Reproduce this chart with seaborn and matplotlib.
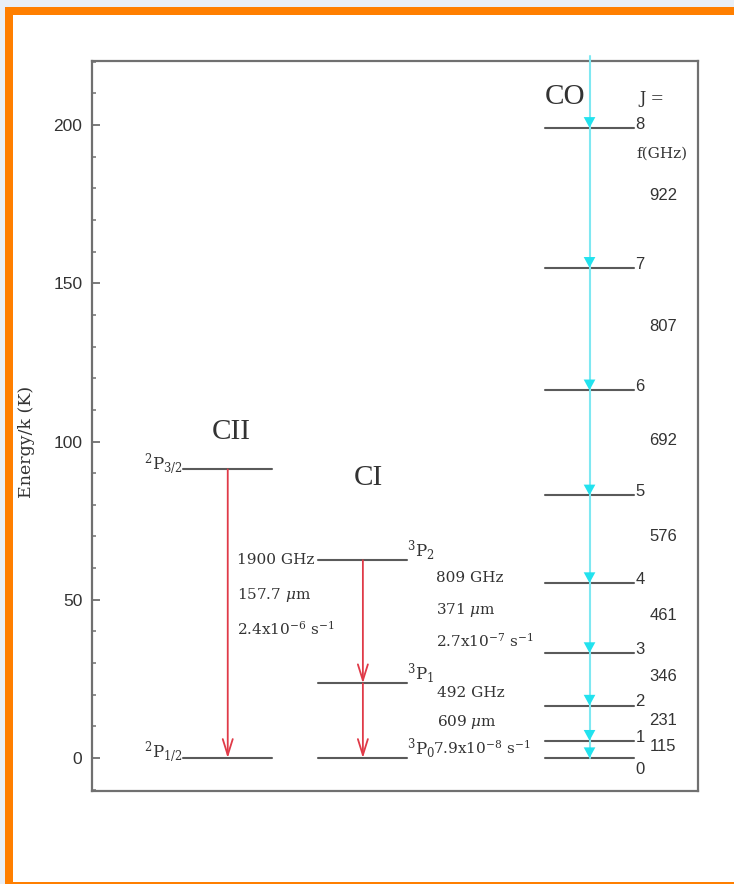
import numpy as np
import pandas as pd
import matplotlib
matplotlib.use("Agg")
import matplotlib.pyplot as plt
from matplotlib.patches import Rectangle
import seaborn as sns

# ---------------- data ----------------
cii_levels = [0.0, 91.2]                 # 2P1/2, 2P3/2  (K)
cii_labels = [r"$^{2}$P$_{1/2}$", r"$^{2}$P$_{3/2}$"]
ci_levels = [0.0, 23.6, 62.5]            # 3P0, 3P1, 3P2 (K)
ci_labels = [r"$^{3}$P$_{0}$", r"$^{3}$P$_{1}$", r"$^{3}$P$_{2}$"]
co_J = [0, 1, 2, 3, 4, 5, 6, 7, 8]
co_levels = [0.0, 5.5, 16.6, 33.2, 55.3, 83.0, 116.2, 154.9, 199.1]
co_freq = ["115", "231", "346", "461", "576", "692", "807", "922"]
cii_trans = ["1900 GHz", r"157.7 $\mu$m", r"2.4x10$^{-6}$ s$^{-1}$"]
ci_trans_hi = ["809 GHz", r"371 $\mu$m", r"2.7x10$^{-7}$ s$^{-1}$"]
ci_trans_lo = ["492 GHz", r"609 $\mu$m", r"7.9x10$^{-8}$ s$^{-1}$"]
yticks = [0, 50, 100, 150, 200]

# ---------------- style ----------------
sns.set_theme(style="ticks")
plt.rcParams["font.family"] = ["DejaVu Serif"]
plt.rcParams["mathtext.fontset"] = "dejavuserif"

SERIF = ["DejaVu Serif"]
SANS = ["Liberation Sans", "DejaVu Sans"]
LEVEL_C = "#5a5a5a"
RED = "#e03a48"
CYAN = "#22e2ee"
CYAN_LINE = "#7fe8f2"
TXT = "#333333"

W, H = 734, 884
fig = plt.figure(figsize=(W / 100, H / 100), dpi=100, facecolor="white")

# page frame (background strip, orange border)
fig.patches.append(Rectangle((0, 0), 1, 1, transform=fig.transFigure,
                             facecolor="#e9eff6", edgecolor="none", zorder=-10))
fig.patches.append(Rectangle((5 / W, 0), 1, 1 - 7 / H, transform=fig.transFigure,
                             facecolor="#ff7f00", edgecolor="none", zorder=-9))
fig.patches.append(Rectangle((13 / W, 2 / H), 1, 1 - 17 / H, transform=fig.transFigure,
                             facecolor="white", edgecolor="none", zorder=-8))

ax = fig.add_axes([92 / W, 93 / H, 606 / W, 730 / H])
ax.set_facecolor("white")
ax.set_xlim(0, 10)
ax.set_ylim(-10.4, 220.2)
ytop = ax.get_ylim()[1]

# column geometry (layout)
cols = {"CII": 2.24, "CI": 4.47, "CO": 8.21}
half = 0.735

# ---- level lines via seaborn ----
rows = []
for name, levels in (("CII", cii_levels), ("CI", ci_levels), ("CO", co_levels)):
    c = cols[name]
    for i, e in enumerate(levels):
        uid = f"{name}{i}"
        rows.append({"x": c - half, "E": e, "uid": uid})
        rows.append({"x": c + half, "E": e, "uid": uid})
df = pd.DataFrame(rows)
sns.lineplot(data=df, x="x", y="E", units="uid", estimator=None, sort=False,
             color=LEVEL_C, lw=1.5, ax=ax, zorder=2)

# ---- CO cascade (cyan line with filled heads) ----
x_co = cols["CO"]
ax.plot([x_co, x_co], [co_levels[0], ytop + 1.5], color=CYAN_LINE, lw=1.5,
        clip_on=False, zorder=3)
tops = [ytop] + co_levels[::-1][:-1]
bottoms = co_levels[::-1]
for top, bot in zip(tops, bottoms):
    ax.annotate("", xy=(x_co, bot), xytext=(x_co, top),
                arrowprops=dict(arrowstyle="-|>,head_length=0.55,head_width=0.3",
                                color=CYAN, lw=0, shrinkA=0, shrinkB=0,
                                mutation_scale=14), zorder=4)

# ---- red transitions ----
red_style = dict(arrowstyle="->,head_length=1.15,head_width=0.36", color=RED,
                 lw=1.3, shrinkA=0, shrinkB=0, mutation_scale=10)
ax.annotate("", xy=(cols["CII"], cii_levels[0]), xytext=(cols["CII"], cii_levels[1]),
            arrowprops=red_style, zorder=3)
ax.annotate("", xy=(cols["CI"], ci_levels[1]), xytext=(cols["CI"], ci_levels[2]),
            arrowprops=red_style, zorder=3)
ax.annotate("", xy=(cols["CI"], ci_levels[0]), xytext=(cols["CI"], ci_levels[1]),
            arrowprops=red_style, zorder=3)

# ---- species titles ----
ax.text(cols["CII"] + 0.05, 103, "CII", family=["Liberation Serif"], fontsize=21,
        ha="center", va="center", color=TXT)
ax.text(cols["CI"] + 0.09, 88.5, "CI", family=["Liberation Serif"], fontsize=21,
        ha="center", va="center", color=TXT)
ax.text(x_co - 0.4, 208.8, "CO", family=["Liberation Serif"], fontsize=21,
        ha="center", va="center", color=TXT)
ax.text(9.03, 208.3, "J =", family=SERIF, fontsize=11.5, ha="left", va="center",
        color=TXT)
ax.text(9.41, 191, "f(GHz)", family=SERIF, fontsize=11, ha="center", va="center",
        color=TXT)

# ---- level labels ----
for e, lab in zip(cii_levels, cii_labels):
    ax.text(cols["CII"] - half, e, lab, family=SERIF, fontsize=12, ha="right",
            va="baseline", color=TXT)
for e, lab in zip(ci_levels, ci_labels):
    ax.text(cols["CI"] + half, e + 1.2, lab, family=SERIF, fontsize=12, ha="left",
            va="baseline", color=TXT)
for j, e in zip(co_J, co_levels):
    if j == 0:
        ax.text(x_co + half + 0.02, e - 1.3, str(j), family=SANS, fontsize=12,
                ha="left", va="top", color=TXT)
    else:
        ax.text(x_co + half + 0.02, e - 0.3, str(j), family=SANS, fontsize=12,
                ha="left", va="baseline", color=TXT)
for k, f in enumerate(co_freq):
    ymid = 0.5 * (co_levels[k] + co_levels[k + 1])
    ax.text(9.43, ymid + 0.8, f, family=SANS, fontsize=12, ha="center",
            va="center", color=TXT)

# ---- transition annotations ----
for t, y in zip(cii_trans, [62.6, 51.5, 41.0]):
    ax.text(2.39, y, t, family=SERIF, fontsize=11, ha="left", va="center",
            color=TXT)
for t, y in zip(ci_trans_hi, [56.9, 46.8, 37.0]):
    ax.text(5.68, y, t, family=SERIF, fontsize=11, ha="left", va="center",
            color=TXT)
for t, y, x in zip(ci_trans_lo, [20.5, 11.4, 3.4], [5.69, 5.69, 5.63]):
    ax.text(x, y, t, family=SERIF, fontsize=11, ha="left", va="center",
            color=TXT)

# ---- axes styling ----
for s in ax.spines.values():
    s.set_color("#707070")
    s.set_linewidth(1.6)
ax.set_xticks([])
ax.set_yticks(yticks)
ax.set_yticks(np.arange(-10, 221, 10), minor=True)
ax.tick_params(axis="y", which="major", direction="in", length=6, width=1.3,
               color="#707070", pad=7, labelsize=12.5, labelcolor=TXT)
ax.tick_params(axis="y", which="minor", direction="in", length=3, width=1.1,
               color="#707070")
for lab in ax.get_yticklabels():
    lab.set_family(SANS)
ax.set_xlabel("")
ax.set_ylabel("Energy/k (K)", family=SERIF, fontsize=12.5, color=TXT)
ax.yaxis.set_label_coords(-0.094, 0.478)

fig.savefig("out.png", dpi=100, facecolor=fig.get_facecolor())
